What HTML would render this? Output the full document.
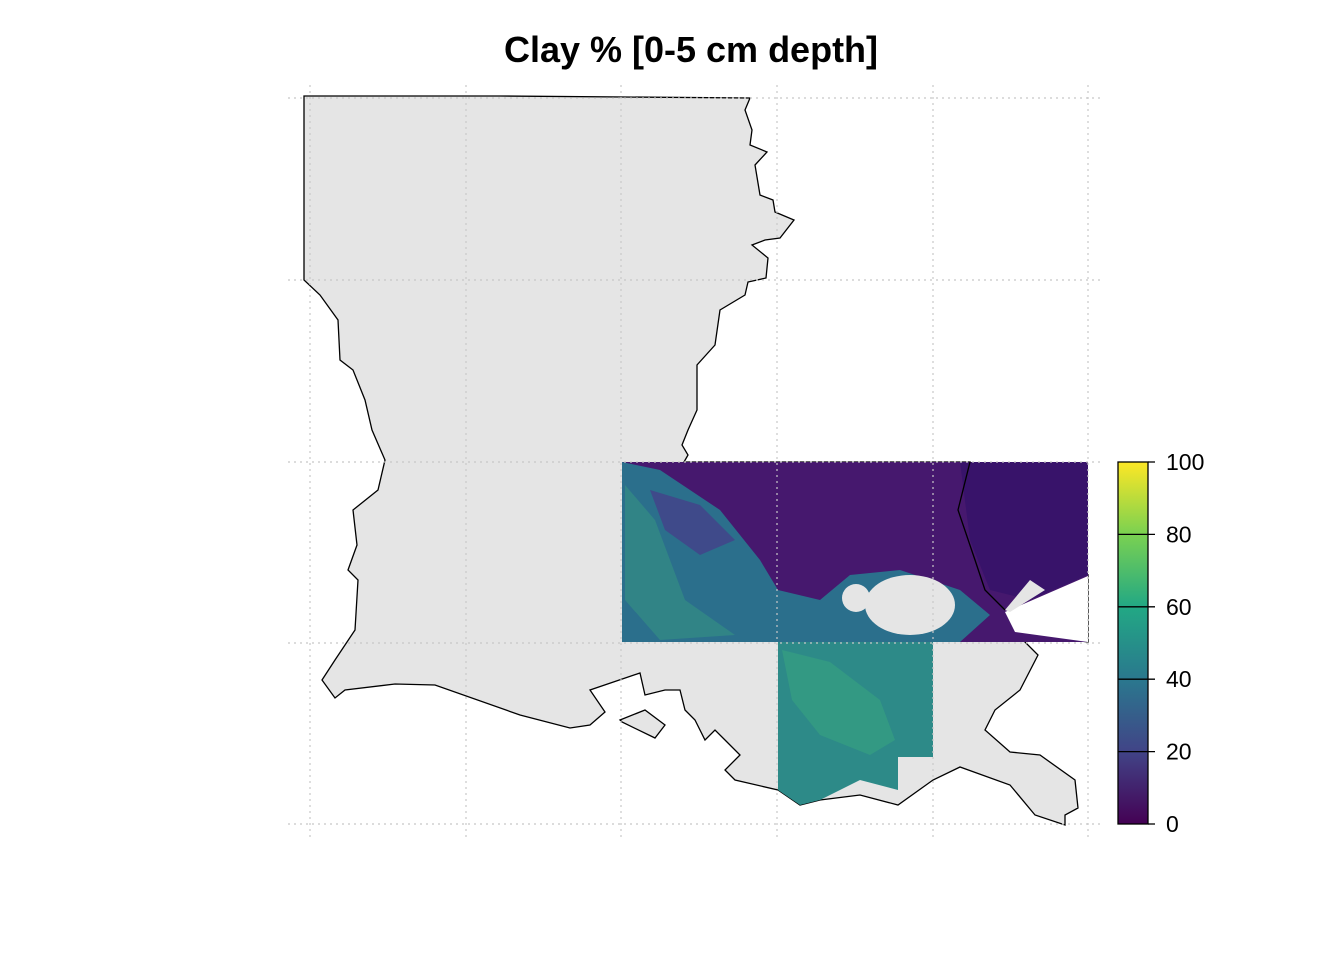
<!DOCTYPE html>
<html><head><meta charset="utf-8"><style>
body{margin:0;background:#fff;width:1344px;height:960px;overflow:hidden;font-family:"Liberation Sans",sans-serif}
</style></head><body>
<svg width="1344" height="960" xmlns="http://www.w3.org/2000/svg">
<defs>
<linearGradient id="vir" x1="0" y1="1" x2="0" y2="0">
<stop offset="0" stop-color="#440154"/><stop offset="0.2" stop-color="#414487"/><stop offset="0.4" stop-color="#2a788e"/><stop offset="0.6" stop-color="#22a884"/><stop offset="0.8" stop-color="#7ad151"/><stop offset="1" stop-color="#fde725"/>
</linearGradient>
</defs>
<text x="691" y="62" text-anchor="middle" font-size="36" font-weight="bold">Clay % [0-5 cm depth]</text>
<g>
<polygon fill="#e5e5e5" stroke="#000" stroke-width="1.3" points="304,96 500,96 625,97 750,98 745,110 752,130 750,145 767,152 755,165 760,195 773,200 775,212 794,220 780,238 765,240 752,245 768,258 766,278 748,282 745,295 720,310 715,345 697,365 697,410 688,430 682,445 688,455 684,462 970,462 958,510 975,560 985,590 1005,610 1088,575 1088,642 1015,632 1038,655 1020,690 995,710 985,730 1010,752 1040,755 1075,780 1078,808 1065,815 1065,825 1035,815 1010,785 960,767 933,780 898,805 860,795 820,800 800,805 778,790 735,780 725,770 740,755 725,740 715,730 705,740 695,720 685,710 680,690 665,690 645,695 640,673 590,690 605,712 590,725 570,728 520,715 435,685 395,684 345,690 335,698 322,680 335,660 345,645 355,630 358,580 348,570 357,545 353,510 378,490 385,460 372,430 365,400 353,370 340,360 338,320 320,295 304,280"/>
<polygon fill="#e5e5e5" stroke="#000" stroke-width="1.3" points="620,720 645,710 665,725 655,738 622,722"/>
</g>
<g>
<rect x="622" y="462" width="466" height="180" fill="#46186e"/>
<polygon fill="#2b6f8c" points="622,462 660,470 720,510 760,560 778,590 820,600 850,575 900,570 960,590 990,615 960,642 622,642"/>
<polygon fill="#3f4a8a" points="650,490 700,505 735,540 700,555 665,530"/>
<polygon fill="#2d8a88" points="778,642 933,642 933,757 898,757 898,790 860,780 820,800 800,805 778,790"/>
<polygon fill="#3fb57a" opacity="0.35" points="782,650 830,662 880,700 895,740 870,755 820,735 792,700"/>
<polygon fill="#3fb57a" opacity="0.3" points="625,485 655,520 685,600 735,635 660,640 625,600"/>
<polygon fill="#38136a" points="960,462 1088,462 1088,575 1030,600 990,590 970,540"/>
<polygon fill="#fff" points="1005,612 1088,576 1088,642 1015,632"/>
<ellipse cx="910" cy="605" rx="45" ry="30" fill="#e5e5e5"/>
<ellipse cx="856" cy="598" rx="14" ry="14" fill="#e5e5e5"/>
<polygon fill="#e5e5e5" points="1005,610 1030,580 1045,590 1010,612"/>
<polyline fill="none" stroke="#000" stroke-width="1.3" points="970,462 958,510 975,560 985,590 1005,610"/>
</g>
<g stroke="#c8c8c8" stroke-width="1.2" stroke-dasharray="2,4" fill="none">
<line x1="310" y1="85" x2="310" y2="840"/><line x1="466" y1="85" x2="466" y2="840"/><line x1="621" y1="85" x2="621" y2="840"/><line x1="777" y1="85" x2="777" y2="840"/><line x1="933" y1="85" x2="933" y2="840"/><line x1="1088" y1="85" x2="1088" y2="840"/>
<line x1="288" y1="98" x2="1100" y2="98"/><line x1="288" y1="280" x2="1100" y2="280"/><line x1="288" y1="462" x2="1100" y2="462"/><line x1="288" y1="643" x2="1100" y2="643"/><line x1="288" y1="824" x2="1100" y2="824"/>
</g>
<g id="legend">
<rect x="1118" y="462" width="30" height="362" fill="url(#vir)" stroke="#000" stroke-width="1.3"/>
</g>
</svg>
<script>
const legendTicks=[0,20,40,60,80,100];
const g=document.getElementById('legend');
const ns='http://www.w3.org/2000/svg';
const yS=v=>824-(v/100)*362;
legendTicks.forEach(t=>{
const l=document.createElementNS(ns,'line');


l.setAttribute('x1',t===0||t===100?1148:1118);l.setAttribute('x2',1155);
l.setAttribute('y1',yS(t));l.setAttribute('y2',yS(t));
l.setAttribute('stroke','#000');l.setAttribute('stroke-width','1.3');
g.appendChild(l);
const tx=document.createElementNS(ns,'text');


tx.setAttribute('x',1166);tx.setAttribute('y',yS(t)+8);
tx.setAttribute('font-size','23');
tx.textContent=t;
g.appendChild(tx);
});
</script>
</body></html>
